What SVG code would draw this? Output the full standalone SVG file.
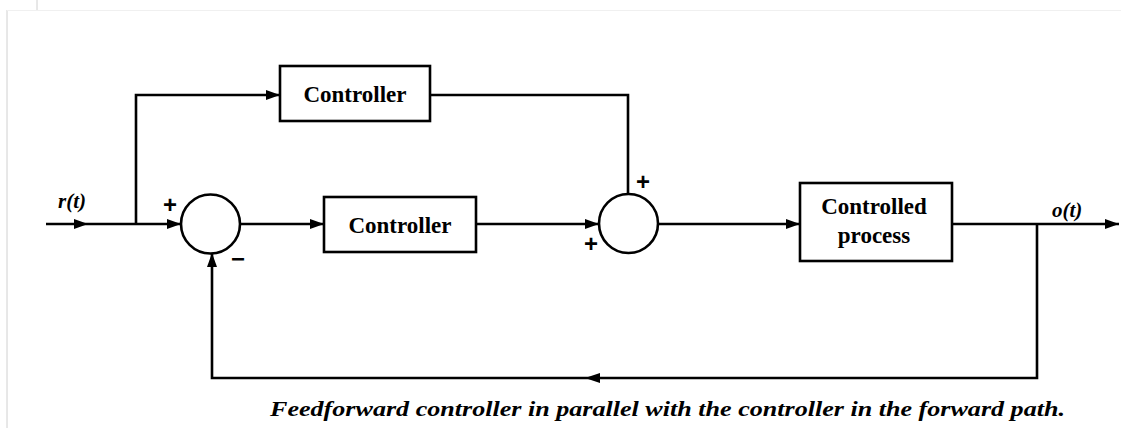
<svg xmlns="http://www.w3.org/2000/svg" width="1121" height="428" viewBox="0 0 1121 428">
<style>
.ln{stroke:#000;stroke-width:2.6;fill:none}
.bx{stroke:#000;stroke-width:2.6;fill:#fff}
.t{font-family:"Liberation Serif","Times New Roman",serif;font-weight:bold;font-size:23px;text-anchor:middle;fill:#000}
.s{font-family:"Liberation Sans",Arial,sans-serif;font-weight:bold;font-size:24px;text-anchor:middle;fill:#000}
.lb{font-family:"Liberation Serif","Times New Roman",serif;font-weight:bold;font-style:italic;font-size:21px;fill:#000}
.ah{fill:#000}
</style>
<defs>
<marker id="arr" viewBox="0 0 14 10" refX="14" refY="5" markerWidth="14" markerHeight="10" markerUnits="userSpaceOnUse" orient="auto">
<path d="M0,0 L14,5 L0,10 z" class="ah"/>
</marker>
</defs>
<rect width="1121" height="428" fill="#fff"/>
<g id="frame">
<line x1="7" y1="10" x2="7" y2="428" stroke="#d0d0d0" stroke-width="1"/>
<line x1="7" y1="10.5" x2="1121" y2="10.5" stroke="#f0f0f0" stroke-width="1"/>
<line x1="37" y1="0" x2="37" y2="10" stroke="#d0d0d0" stroke-width="1"/>
</g>
<g id="connectors">
<line class="ln" x1="46" y1="224" x2="181" y2="224" marker-end="url(#arr)"/>
<path d="M74,219 L88,224 L74,229 z" class="ah"/>
<polyline class="ln" points="136,224 136,95 280,95" marker-end="url(#arr)"/>
<polyline class="ln" points="430,95 628,95 628,194"/>
<line class="ln" x1="240" y1="224" x2="324" y2="224" marker-end="url(#arr)"/>
<line class="ln" x1="476" y1="224" x2="599" y2="224" marker-end="url(#arr)"/>
<line class="ln" x1="658" y1="224" x2="800" y2="224" marker-end="url(#arr)"/>
<line class="ln" x1="952" y1="224" x2="1119" y2="224" marker-end="url(#arr)"/>
<polyline class="ln" points="1037,224 1037,378 212,378 212,253" marker-end="url(#arr)"/>
<path d="M585,378 L600,373 L600,383 z" class="ah"/>
</g>
<g id="ff-controller">
<rect class="bx" x="280" y="66" width="150" height="55"/>
<text class="t" x="355" y="102">Controller</text>
</g>
<g id="sum1">
<circle class="bx" cx="210.5" cy="224" r="29.5"/>
<text class="s" x="170" y="213">+</text>
<text class="s" x="238" y="267">−</text>
</g>
<g id="controller">
<rect class="bx" x="324" y="197" width="152" height="55"/>
<text class="t" x="400" y="233">Controller</text>
</g>
<g id="sum2">
<circle class="bx" cx="628.5" cy="223.5" r="29.5"/>
<text class="s" x="643" y="190">+</text>
<text class="s" x="591" y="252">+</text>
</g>
<g id="process">
<rect class="bx" x="800" y="183" width="152" height="78"/>
<text class="t" x="874" y="214">Controlled</text>
<text class="t" x="874" y="243">process</text>
</g>
<g id="labels">
<text class="lb" x="58" y="208">r(t)</text>
<text class="lb" x="1052" y="217">o(t)</text>
<text class="lb" x="270" y="416" font-size="22" textLength="795" lengthAdjust="spacingAndGlyphs">Feedforward controller in parallel with the controller in the forward path.</text>
</g>
</svg>
